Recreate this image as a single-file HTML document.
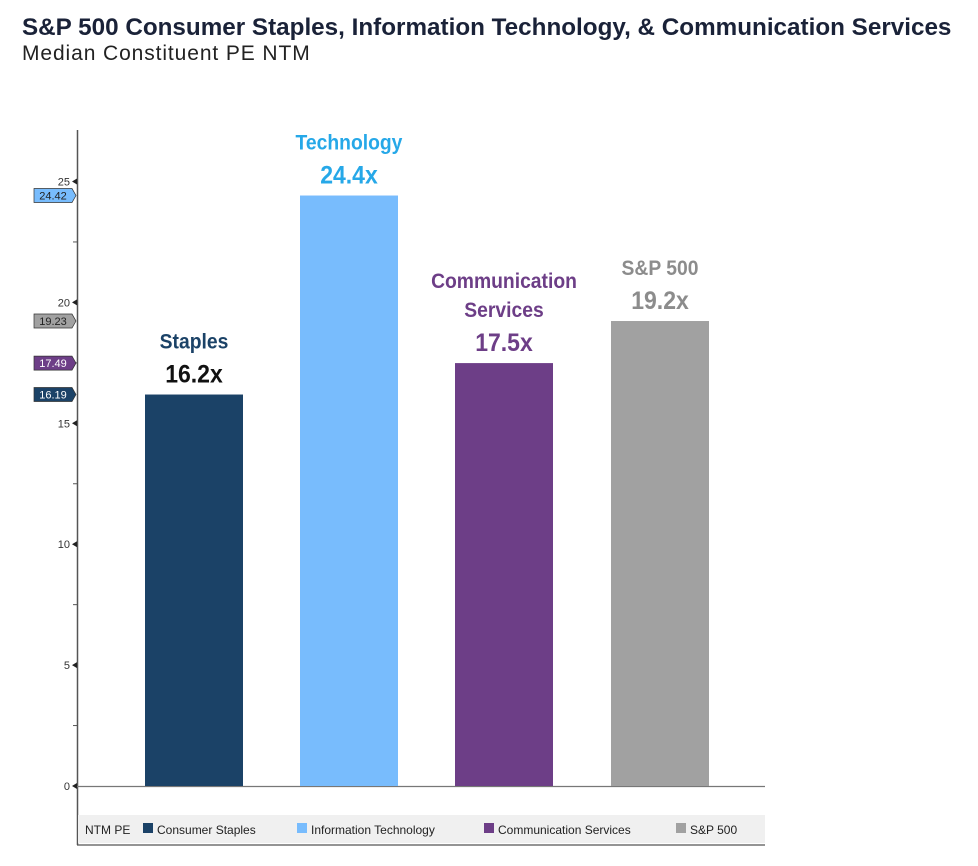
<!DOCTYPE html>
<html><head><meta charset="utf-8"><style>
body{margin:0;background:#fff;width:978px;height:866px;overflow:hidden;font-family:"Liberation Sans",sans-serif}
.t{position:absolute;left:22px;top:14px;font-size:24px;font-weight:bold;color:#1a2238;white-space:nowrap;transform:scaleX(1.01);transform-origin:left}
.s{position:absolute;left:22px;top:42px;font-size:21px;color:#222;letter-spacing:0.9px;white-space:nowrap}
</style></head><body>
<div class="t">S&amp;P 500 Consumer Staples, Information Technology, &amp; Communication Services</div>
<div class="s">Median Constituent PE NTM</div>
<svg id="c" width="978" height="866" style="position:absolute;left:0;top:0"></svg>
<script>
const categories=["Staples","Technology","Communication Services","S&P 500"];
const values=[16.19,24.42,17.49,19.23];
const labels=["16.2x","24.4x","17.5x","19.2x"];
const legendNames=["Consumer Staples","Information Technology","Communication Services","S&P 500"];
const yTicks=[0,5,10,15,20,25];
const colors=["#1b4267","#78bcfd","#6d3e87","#a1a1a1"];
const textColors=["#1b4267","#26a8e8","#6d3e87","#8c8c8c"];
const NS="http://www.w3.org/2000/svg",svg=document.getElementById('c');
const y=v=>786-v*24.18;
const xLeft=[145,300,455,611],bw=98;
function el(t,a,txt){const e=document.createElementNS(NS,t);for(const k in a)e.setAttribute(k,a[k]);if(txt!=null)e.textContent=txt;svg.appendChild(e);return e;}
let ax=el('line',{x1:77.5,y1:130,x2:77.5,y2:845,stroke:'#555','stroke-width':1.5});


let bl=el('line',{x1:77,y1:786.5,x2:765,y2:786.5,stroke:'#777','stroke-width':1.2});


for(let v=0;v<=25;v+=2.5){el('line',{x1:73,x2:77,y1:y(v),y2:y(v),stroke:'#555'});}
yTicks.forEach(v=>{
 el('path',{d:`M72 ${y(v)} L77 ${y(v)-3} L77 ${y(v)+3}Z`,fill:'#222'});
 const t=el('text',{x:70,y:y(v)+4,'text-anchor':'end','font-size':11,fill:'#333'},v);
 
 
});
values.forEach((v,i)=>{
 const yy=y(v);
 const g=el('path',{d:`M34 ${yy-7} H72 L76 ${yy} L72 ${yy+7} H34Z`,fill:colors[i],stroke:'#333','stroke-width':0.7});
 
 
 el('text',{x:53,y:yy+4,'text-anchor':'middle','font-size':11,fill:i==1||i==3?'#222':'#fff'},v.toFixed(2));
});
values.forEach((v,i)=>{
 const r=el('rect',{x:xLeft[i],y:y(v),width:bw,height:y(0)-y(v),fill:colors[i]});
 
 
 const cx=xLeft[i]+bw/2,top=y(v);
 const lines=i==2?["Communication","Services"]:[categories[i]];
 lines.forEach((s,j)=>{
  const t=el('text',{x:cx,y:top-75+(lines.length==1?29:0)+j*29,'text-anchor':'middle','font-size':21,'font-weight':'bold',fill:textColors[i],transform:`translate(${cx} 0) scale(0.92 1) translate(${-cx} 0)`},s);
  
  
 });
 const vl=el('text',{x:cx,y:top-12,'text-anchor':'middle','font-size':25,'font-weight':'bold',fill:i==0?'#111':textColors[i],transform:`translate(${cx} 0) scale(0.92 1) translate(${-cx} 0)`},labels[i]);
 
 
});
const lg=el('rect',{x:78,y:815,width:687,height:28,fill:'#f0f0f0'});


el('line',{x1:77,y1:845,x2:765,y2:845,stroke:'#555','stroke-width':1.2});
el('text',{x:85,y:834,'font-size':12,fill:'#222'},'NTM PE');
const lx=[143,297,484,676];
legendNames.forEach((n,i)=>{
 el('rect',{x:lx[i],y:823,width:10,height:10,fill:colors[i]});
 const t=el('text',{x:lx[i]+14,y:834,'font-size':12,fill:'#222'},n);
 
 
});
</script>
</body></html>
